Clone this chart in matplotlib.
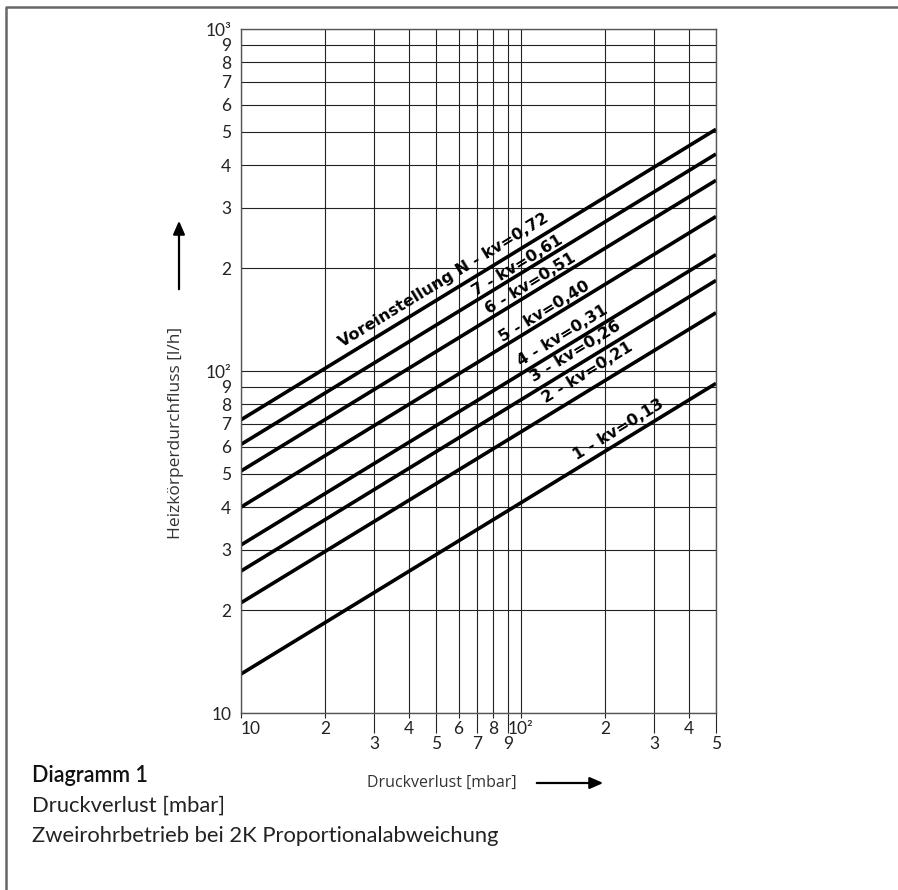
import numpy as np
import matplotlib.pyplot as plt
from matplotlib.patches import FancyArrowPatch

# Pressure loss range covered by the lines [mbar]
dp_range = [10, 500]

# Line labels and flow values read at 10 mbar and 500 mbar [l/h]
line_labels = ["Voreinstellung N - kv=0,72", "7 - kv=0,61", "6 - kv=0,51",
               "5 - kv=0,40", "4 - kv=0,31", "3 - kv=0,26", "2 - kv=0,21",
               "1 - kv=0,13"]
flow_at_10 = [72, 61, 51, 40, 31, 26, 21, 13]
flow_at_500 = [509, 431, 361, 283, 219, 184, 148, 92]

# where the line labels sit (data coords)
label_x = [53.1, 97.5, 108.6, 121.8, 141.3, 157.1, 173.4, 224]
label_y = [184.5, 202.8, 179.7, 148.8, 126.6, 113.7, 98.7, 67.2]

# x ticks: upper row (short tick) and lower row (long tick)
x_ticks_upper = [10, 20, 40, 60, 80, 100, 200, 400]
x_labels_upper = ["10", "2", "4", "6", "8", "10²", "2", "4"]
x_ticks_lower = [30, 50, 70, 90, 300, 500]
x_labels_lower = ["3", "5", "7", "9", "3", "5"]

y_ticks = [10, 20, 30, 40, 50, 60, 70, 80, 90,
           100, 200, 300, 400, 500, 600, 700, 800, 900, 1000]
y_labels = ["10", "2", "3", "4", "5", "6", "7", "8", "9",
            "10²", "2", "3", "4", "5", "6", "7", "8", "9", "10³"]

W, H = 898, 890
fig = plt.figure(figsize=(W / 100, H / 100), dpi=100)
ax = fig.add_axes([241 / W, 1 - 713 / H, 475 / W, 684 / H])
ax.set_xscale("log")
ax.set_yscale("log")
ax.set_xlim(10, 500)
ax.set_ylim(10, 1000)

grid_col = "#222222"

# x ticks
ax.set_xticks(x_ticks_lower, x_labels_lower)
ax.set_xticks(x_ticks_upper, x_labels_upper, minor=True)
ax.tick_params(axis="x", which="major", length=14.5, width=0.8, color=grid_col,
               pad=2, labelsize=12.5)
ax.tick_params(axis="x", which="minor", length=3.5, width=0.8, color=grid_col,
               pad=2.5, labelsize=12.5)
ax.xaxis.get_minorticklabels()[0].set_horizontalalignment("left")

# y ticks
ax.set_yticks(y_ticks, y_labels)
ax.set_yticks([], minor=True)
ax.tick_params(axis="y", which="major", length=0, pad=7, labelsize=12.5)

for lab in ax.get_xticklabels() + ax.get_xticklabels(minor=True) + ax.get_yticklabels():
    lab.set_fontfamily("Lato")
    lab.set_color("#222222")

ax.grid(True, which="both", axis="x", color=grid_col, lw=0.8)
ax.grid(True, which="major", axis="y", color=grid_col, lw=0.8)
for sp in ax.spines.values():
    sp.set_color("#555555")
    sp.set_linewidth(1.0)

# kv lines
for f0, f1 in zip(flow_at_10, flow_at_500):
    ax.plot(dp_range, [f0, f1], color="black", lw=2.6, solid_capstyle="butt")

# label angle from the drawn slope in pixels
p0 = ax.transData.transform((dp_range[0], flow_at_10[0]))
p1 = ax.transData.transform((dp_range[1], flow_at_500[0]))
angle = np.degrees(np.arctan2(p1[1] - p0[1], p1[0] - p0[0]))

for txt, lx, ly in zip(line_labels, label_x, label_y):
    ax.text(lx, ly, txt, rotation=angle, rotation_mode="anchor",
            ha="center", va="center", fontsize=11.5, fontweight="bold",
            family="DejaVu Sans", color="black")

# axis titles with arrows
fig.text(176 / W, 1 - 433 / H, "Heizkörperdurchfluss [l/h]", rotation=90,
         ha="center", va="center", fontsize=12.5, family="Open Sans", color="#333333")
fig.add_artist(FancyArrowPatch((179 / W, 1 - 292 / H), (179 / W, 1 - 218 / H),
                               transform=fig.transFigure, arrowstyle="-|>,head_length=8,head_width=3.5",
                               color="black", lw=1.6, mutation_scale=1))
fig.text(442 / W, 1 - 783 / H, "Druckverlust [mbar]", ha="center", va="center",
         fontsize=11.5, family="Open Sans", color="#333333")
fig.add_artist(FancyArrowPatch((534 / W, 1 - 783 / H), (606 / W, 1 - 783 / H),
                               transform=fig.transFigure, arrowstyle="-|>,head_length=8,head_width=3.5",
                               color="black", lw=1.6, mutation_scale=1))

# caption
fig.text(32 / W, 1 - 775 / H, "Diagramm 1", ha="left", va="center",
         fontsize=15.5, family="Lato", fontweight="semibold", color="#111111")
fig.text(32 / W, 1 - 806 / H, "Druckverlust [mbar]", ha="left", va="center",
         fontsize=15.8, family="Lato", color="#222222")
fig.text(32 / W, 1 - 836 / H, "Zweirohrbetrieb bei 2K Proportionalabweichung",
         ha="left", va="center", fontsize=15.8, family="Lato", color="#222222")

# outer frame (left and top edges)
fig.add_artist(plt.Line2D([6 / W, 6 / W, 1.01], [-0.01, 1 - 7 / H, 1 - 7 / H],
                          transform=fig.transFigure, color="#666666", lw=1.8))

fig.savefig("out.png", dpi=100)
